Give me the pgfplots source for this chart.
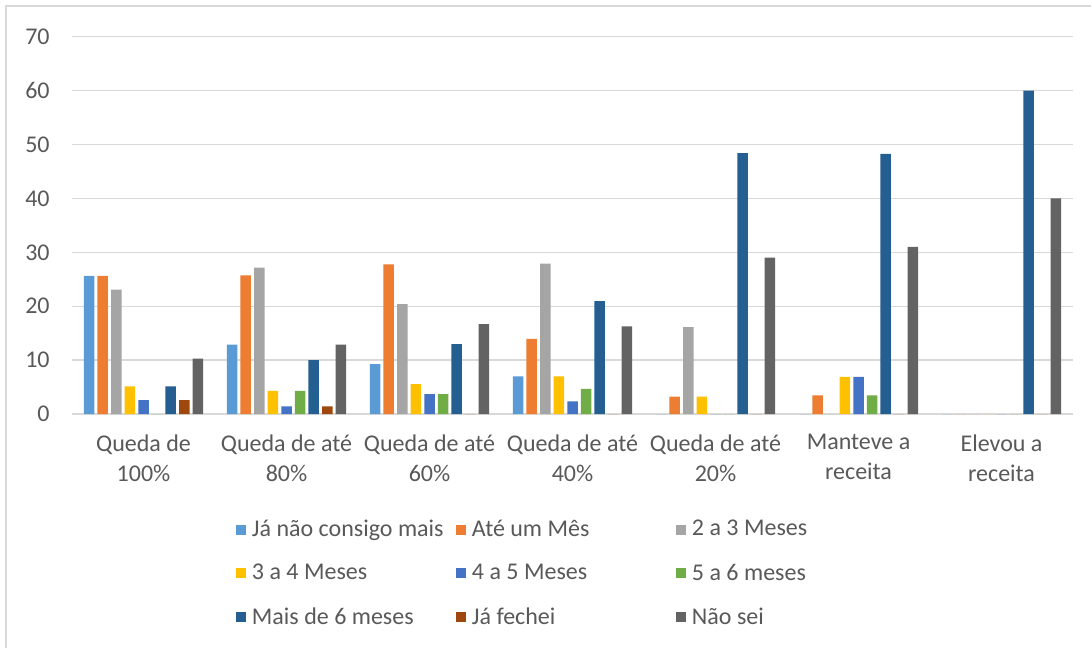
\documentclass[border=0pt]{standalone}
\usepackage{fontspec}
\setmainfont{Carlito}
\usepackage{pgfplots}
\usepackage{pgfplotstable}
\pgfplotsset{compat=1.18}
\definecolor{txtgray}{HTML}{595959}
\definecolor{gridgray}{HTML}{D9D9D9}
\definecolor{cA}{HTML}{5B9BD5}
\definecolor{cB}{HTML}{ED7D31}
\definecolor{cC}{HTML}{A5A5A5}
\definecolor{cD}{HTML}{FFC000}
\definecolor{cE}{HTML}{4472C4}
\definecolor{cF}{HTML}{70AD47}
\definecolor{cG}{HTML}{255E91}
\definecolor{cH}{HTML}{9E480E}
\definecolor{cI}{HTML}{636363}

% percent of answers per revenue change group
\pgfplotstableread{
x  nao    ateum  m23    m34   m45   m56   mais6  fechei naosei
0  25.64  25.64  23.08  5.13  2.56  0     5.13   2.56   10.26
1  12.86  25.71  27.14  4.29  1.43  4.29  10.00  1.43   12.86
2  9.26   27.78  20.37  5.56  3.70  3.70  12.96  0      16.67
3  6.98   13.95  27.91  6.98  2.33  4.65  20.93  0      16.28
4  0      3.23   16.13  3.23  0     0     48.39  0      29.03
5  0      3.45   0      6.90  6.90  3.45  48.28  0      31.03
6  0      0      0      0     0     0     60.00  0      40.00
}\datatable

\newcommand{\lbox}[1]{\makebox[102pt][l]{#1}}

\begin{document}
\begin{tikzpicture}
\useasboundingbox (0,0) rectangle (545.5pt,324pt);
\fill[white] (0,0) rectangle (545.5pt,324pt);
\draw[gridgray, line width=0.6pt] (3pt,0) -- (3pt,321pt) -- (545.5pt,321pt);
\begin{axis}[
  at={(36pt,117pt)}, anchor=south west,
  scale only axis,
  width=500.5pt, height=188.65pt,
  ybar=1.55pt, bar width=5.25pt,
  xmin=-0.5, xmax=6.5,
  ymin=0, ymax=70,
  xtick={0,...,6},
  xticklabels={Queda de\\100\%, Queda de até\\80\%, Queda de até\\60\%,
    Queda de até\\40\%, Queda de até\\20\%, Manteve a\\receita, Elevou a\\receita},
  ytick={0,10,...,70},
  major tick length=0pt,
  axis line style={draw=none},
  ymajorgrids,
  grid style={gridgray, line width=0.7pt},
  tick label style={text=txtgray, font={\fontsize{12}{15}\selectfont}},
  xticklabel style={align=center, anchor=north, inner sep=0pt, yshift=-10pt},
  yticklabel style={anchor=east, inner sep=0pt, xshift=-11pt},
  /pgf/number format/assume math mode=true,
  legend columns=3,
  legend style={at={(0.1638,-0.2806)}, anchor=north west, draw=none, fill=none,
    inner sep=0pt, outer sep=0pt, row sep=12.25pt,
    font={\fontsize{12}{14}\selectfont}, text=txtgray,
    nodes={inner sep=0pt},
    /tikz/every odd column/.append style={column sep=3pt}},
  legend image code/.code={\fill[#1] (0pt,-2.5pt) rectangle (5pt,2.5pt);},
  every axis plot/.append style={draw=none},
]
\addplot[fill=cA] table[x=x, y=nao] {\datatable};
\addplot[fill=cB] table[x=x, y=ateum] {\datatable};
\addplot[fill=cC] table[x=x, y=m23] {\datatable};
\addplot[fill=cD] table[x=x, y=m34] {\datatable};
\addplot[fill=cE] table[x=x, y=m45] {\datatable};
\addplot[fill=cF] table[x=x, y=m56] {\datatable};
\addplot[fill=cG] table[x=x, y=mais6] {\datatable};
\addplot[fill=cH] table[x=x, y=fechei] {\datatable};
\addplot[fill=cI] table[x=x, y=naosei] {\datatable};
\legend{\lbox{Já não consigo mais}, \lbox{Até um Mês}, \lbox{2 a 3 Meses},
  \lbox{3 a 4 Meses}, \lbox{4 a 5 Meses}, \lbox{5 a 6 meses},
  \lbox{Mais de 6 meses}, \lbox{Já fechei}, \lbox{Não sei}}
\end{axis}
\end{tikzpicture}
\end{document}
